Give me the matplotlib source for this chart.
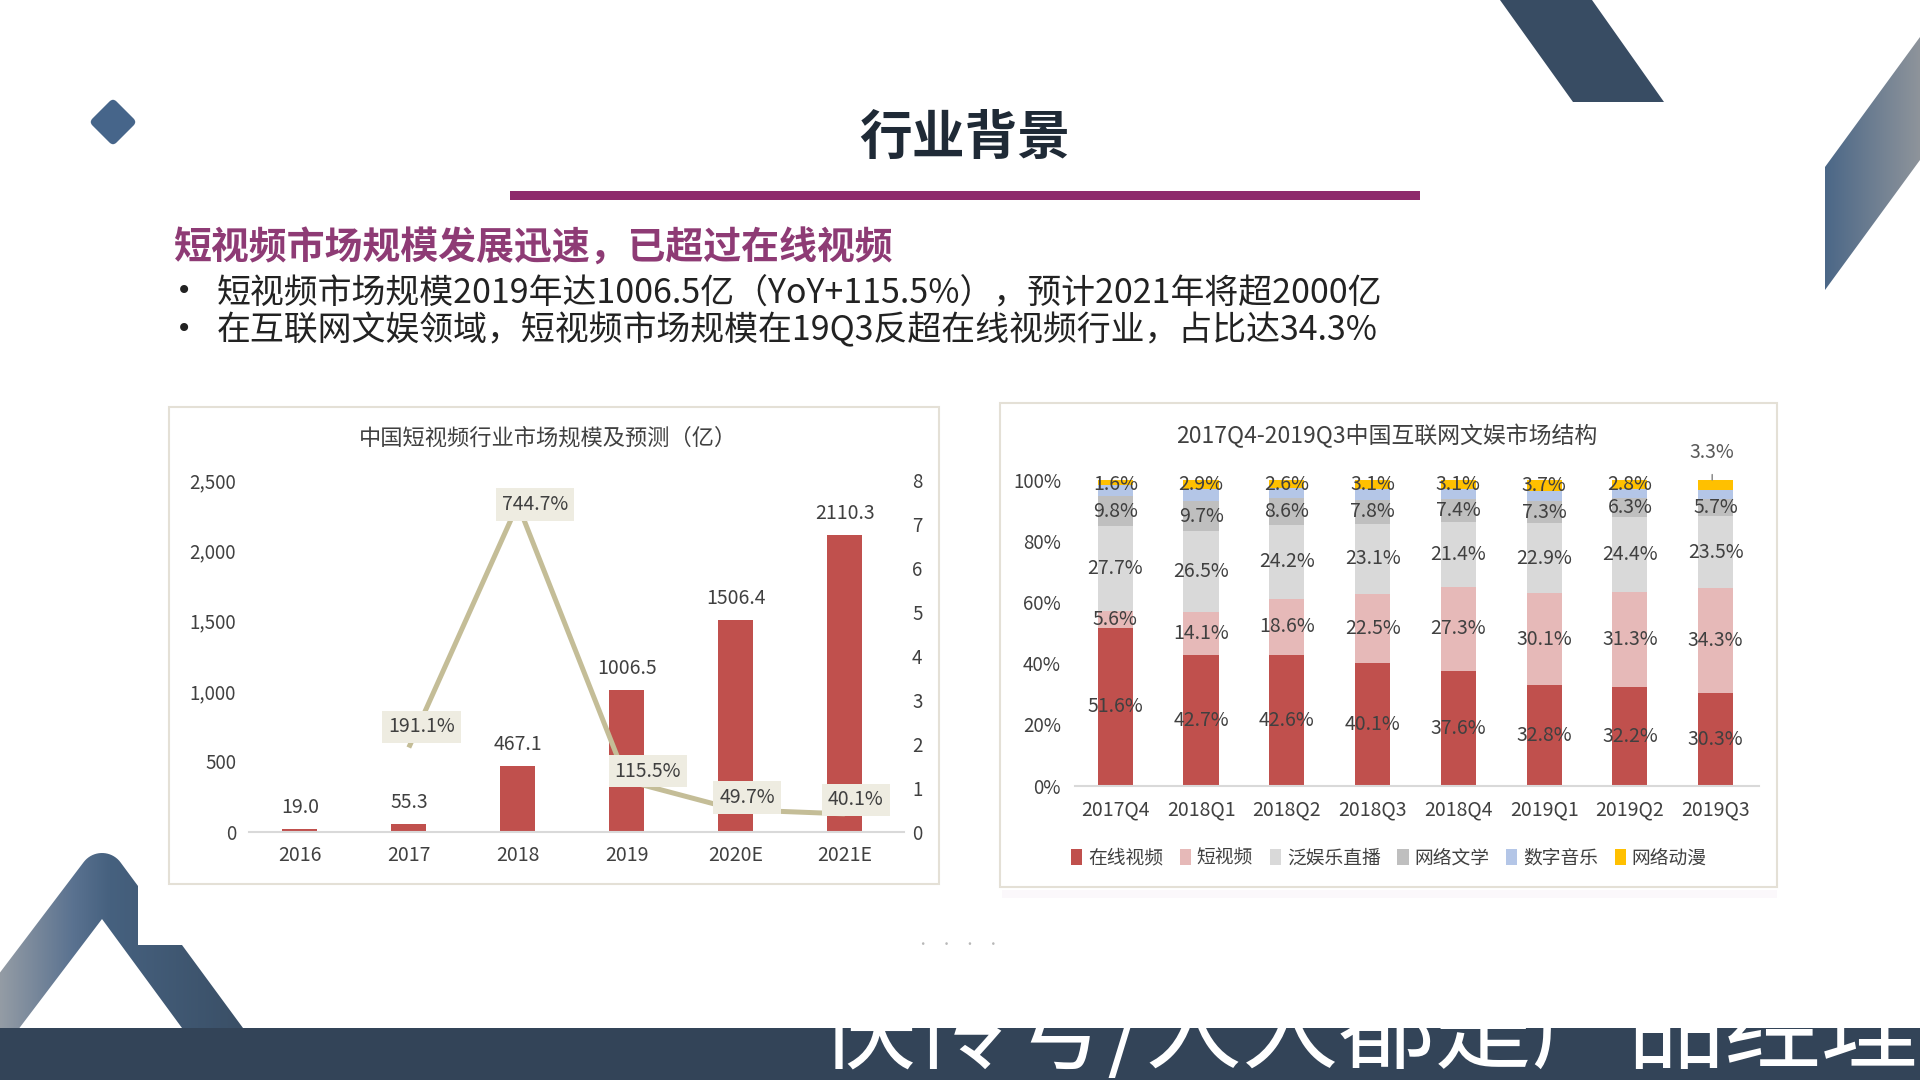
import numpy as np
import matplotlib
matplotlib.use("Agg")
import matplotlib.pyplot as plt
from matplotlib.patches import Polygon, FancyBboxPatch, Rectangle
from matplotlib.transforms import Affine2D
from matplotlib.colors import LinearSegmentedColormap
from matplotlib.ticker import FuncFormatter

plt.rcParams['font.family'] = ['Noto Sans CJK SC', 'DejaVu Sans']

# 左图：中国短视频行业市场规模及预测（亿）
years = ['2016', '2017', '2018', '2019', '2020E', '2021E']
market_size = [19.0, 55.3, 467.1, 1006.5, 1506.4, 2110.3]
yoy_years = ['2017', '2018', '2019', '2020E', '2021E']
yoy_growth = [1.911, 7.447, 1.155, 0.497, 0.401]
yoy_labels = ['191.1%', '744.7%', '115.5%', '49.7%', '40.1%']

# 右图：2017Q4-2019Q3中国互联网文娱市场结构（%）
quarters = ['2017Q4', '2018Q1', '2018Q2', '2018Q3', '2018Q4', '2019Q1', '2019Q2', '2019Q3']
segments = ['在线视频', '短视频', '泛娱乐直播', '网络文学', '数字音乐', '网络动漫']
online_video = [51.6, 42.7, 42.6, 40.1, 37.6, 32.8, 32.2, 30.3]
short_video = [5.6, 14.1, 18.6, 22.5, 27.3, 30.1, 31.3, 34.3]
live_stream = [27.7, 26.5, 24.2, 23.1, 21.4, 22.9, 24.4, 23.5]
literature = [9.8, 9.7, 8.6, 7.8, 7.4, 7.3, 6.3, 5.7]
music = [3.7, 4.1, 3.4, 3.4, 3.2, 3.2, 3.0, 2.9]
anime = [1.6, 2.9, 2.6, 3.1, 3.1, 3.7, 2.8, 3.3]

W, H = 1920, 1080
TXT = '#404040'

fig = plt.figure(figsize=(19.2, 10.8), dpi=100)
bg = fig.add_axes([0, 0, 1, 1])
bg.axis('off')


def rect(x0, y0, x1, y1):
    # 像素坐标 -> figure 坐标
    return [x0 / W, 1 - y1 / H, (x1 - x0) / W, (y1 - y0) / H]


def grad_poly(ax, pts, stops, z=1):
    poly = Polygon(pts, closed=True, facecolor='none', edgecolor='none')
    ax.add_patch(poly)
    xs = [p[0] for p in pts]
    ys = [p[1] for p in pts]
    cmap = LinearSegmentedColormap.from_list('g', stops)
    g = np.linspace(0, 1, 256).reshape(1, -1)
    im = ax.imshow(g, extent=(min(xs), max(xs), max(ys), min(ys)), cmap=cmap,
                   aspect='auto', zorder=z, interpolation='bilinear')
    im.set_clip_path(poly)


# ---- 装饰图形 ----
# 左上菱形
dia = FancyBboxPatch((113 - 15, 122 - 15), 30, 30, boxstyle='round,pad=2,rounding_size=5',
                     fc='#46658a', ec='none')
dia.set_transform(Affine2D().rotate_deg_around(113, 122, 45) + bg.transData)
bg.add_patch(dia)

# 右上斜条
bg.add_patch(Polygon([(1500, 0), (1592, 0), (1664, 102), (1573, 102)], closed=True,
                     fc='#384c63', ec='none'))
grad_poly(bg, [(1825, 167), (1920, 37), (1920, 160), (1825, 290)],
          [(0, '#4b6787'), (1, '#8e949b')])

# 左下 "A" 形
cx, cy, r = 102, 876, 23
ang = np.radians(np.linspace(-142.8, -36.3, 20))
arc = [(cx + r * np.cos(a), cy + r * np.sin(a)) for a in ang]
a_pts = [(0, 972.5)] + arc + [(138, 886), (138, 945), (182, 945), (243, 1028),
                              (182, 1028), (102, 919), (19.4, 1028), (0, 1028)]
grad_poly(bg, a_pts, [(0, '#949ca5'), (0.3, '#5a7290'), (0.45, '#46617f'), (1, '#3a4f66')])

# 底部深色条
bg.add_patch(Rectangle((0, 1028), 1920, 52, fc='#334458', ec='none', zorder=3))
bg.text(818, 1061, '快传号/人人都是产品经理', fontsize=69.5, color='white',
        ha='left', va='baseline', zorder=4, fontweight='medium')
bg.text(958, 945, '·    ·    ·    ·', fontsize=9, color='#b8b8b8', ha='center', va='center')

# ---- 标题区 ----
bg.text(965, 138, '行业背景', ha='center', va='center', fontsize=38, fontweight='bold',
        color='#1f2a36')
bg.add_patch(Rectangle((510, 191), 910, 9, fc='#8e2a6c', ec='none'))
bg.text(173, 248, '短视频市场规模发展迅速，已超过在线视频', ha='left', va='center',
        fontsize=27.3, color='#8e3b75', fontweight='bold')
bg.text(176, 291, '•', ha='left', va='center', fontsize=20, color='#222222',
        family='DejaVu Sans')
bg.text(217, 293, '短视频市场规模2019年达1006.5亿（YoY+115.5%），预计2021年将超2000亿',
        ha='left', va='center', fontsize=24.4, color='#222222')
bg.text(176, 329, '•', ha='left', va='center', fontsize=20, color='#222222',
        family='DejaVu Sans')
bg.text(217, 331, '在互联网文娱领域，短视频市场规模在19Q3反超在线视频行业，占比达34.3%',
        ha='left', va='center', fontsize=24.4, color='#222222')

# 图表外框
bg.add_patch(Rectangle((169, 407), 770, 477, fc='white', ec='#e4e0d6', lw=1.5))
bg.add_patch(Rectangle((1002, 890), 775, 8, fc='#fbf8fb', ec='none'))
bg.add_patch(Rectangle((1000, 403), 777, 484, fc='white', ec='#e4e0d6', lw=1.5))

bg.set_xlim(0, W)
bg.set_ylim(H, 0)

# ---- 左图 ----
ax1 = fig.add_axes(rect(248.6, 480, 903.7, 831.5))
ax1.set_facecolor('none')
x = np.arange(len(years))
ax1.bar(x, market_size, width=0.32, color='#c0504d', zorder=2)
for xi, v in zip(x, market_size):
    ax1.annotate(f'{v:.1f}', (xi, v), xytext=(0, 15.5), textcoords='offset points',
                 ha='center', va='center', fontsize=14, color=TXT)
ax1.set_xlim(-0.47, 5.54)
ax1.set_ylim(0, 2500)
ax1.set_xticks(x)
ax1.set_xticklabels(years)
ax1.set_yticks(range(0, 2501, 500))
ax1.yaxis.set_major_formatter(FuncFormatter(lambda v, p: f'{int(v):,}'))
for s in ['top', 'right', 'left']:
    ax1.spines[s].set_visible(False)
ax1.spines['bottom'].set_color('#d9d9d9')
ax1.spines['bottom'].set_linewidth(1.5)
ax1.tick_params(axis='x', length=0, pad=10, labelsize=14, labelcolor=TXT)
ax1.tick_params(axis='y', length=0, pad=9, labelsize=13.5, labelcolor=TXT)

ax1b = ax1.twinx()
ax1b.set_ylim(0, 8)
ax1b.set_yticks(range(0, 9))
for s in ax1b.spines.values():
    s.set_visible(False)
ax1b.tick_params(axis='y', length=0, pad=6, labelsize=13.5, labelcolor=TXT)
xl = [years.index(y) for y in yoy_years]
ax1b.plot(xl, yoy_growth, color='#c4bd97', lw=3.6, zorder=3, solid_capstyle='butt')
label_offsets = [(9, 14.8), (12.2, 0), (15, 7), (8, 8.6), (8, 10)]
for xi, v, lbl, off in zip(xl, yoy_growth, yoy_labels, label_offsets):
    ax1b.annotate(lbl, (xi, v), xytext=off, textcoords='offset points', ha='center',
                  va='center', fontsize=14, color=TXT, zorder=4,
                  bbox=dict(boxstyle='square,pad=0.3', fc='#eeece1', ec='none'))

fig.text(548 / W, 1 - 438 / H, '中国短视频行业市场规模及预测（亿）', ha='center', va='center',
         fontsize=16, color=TXT)

# ---- 右图 ----
ax2 = fig.add_axes(rect(1075, 480, 1758.5, 785.5))
ax2.set_facecolor('none')
xq = np.arange(len(quarters))
series = [online_video, short_video, live_stream, literature, music, anime]
colors = ['#c0504d', '#e6b9b8', '#d9d9d9', '#bfbfbf', '#b4c6e7', '#ffc000']
bottom = np.zeros(len(quarters))
for name, vals, c in zip(segments, series, colors):
    vals = np.array(vals)
    ax2.bar(xq, vals, bottom=bottom, width=0.41, color=c, label=name, zorder=2)
    if name != '数字音乐':
        for xi, b, v in zip(xq, bottom, vals):
            if name == '网络动漫' and xi == len(quarters) - 1:
                ax2.annotate(f'{v}%', (xi - 0.04, b + v), xytext=(0, 19.5),
                             textcoords='offset points', ha='center', va='center',
                             fontsize=14, color='#595959', annotation_clip=False,
                             arrowprops=dict(arrowstyle='-', color='#808080', lw=1,
                                             shrinkA=6, shrinkB=0))
                continue
            yc = b + v / 2
            if name == '网络动漫':
                yc = min(yc, 98.4)
            ax2.text(xi, yc, f'{v}%', ha='center', va='center', fontsize=14,
                     color=TXT, zorder=3)
    bottom += vals
ax2.set_xlim(-0.47, 7.5)
ax2.set_ylim(0, 100)
ax2.set_xticks(xq)
ax2.set_xticklabels(quarters)
ax2.set_yticks(range(0, 101, 20))
ax2.yaxis.set_major_formatter(FuncFormatter(lambda v, p: f'{int(v)}%'))
for s in ['top', 'right', 'left']:
    ax2.spines[s].set_visible(False)
ax2.spines['bottom'].set_color('#d9d9d9')
ax2.spines['bottom'].set_linewidth(1.5)
ax2.tick_params(axis='x', length=0, pad=10, labelsize=14, labelcolor=TXT)
ax2.tick_params(axis='y', length=0, pad=10, labelsize=13.5, labelcolor=TXT)
ax2.legend(ncol=6, loc='center', bbox_to_anchor=(1389 / W, 1 - 858 / H),
           bbox_transform=fig.transFigure, frameon=False, fontsize=13.5,
           handlelength=0.6, handleheight=0.9, handletextpad=0.3, columnspacing=0.9,
           labelcolor=TXT)

fig.text(1387 / W, 1 - 436 / H, '2017Q4-2019Q3中国互联网文娱市场结构', ha='center', va='center',
         fontsize=16.5, color=TXT)

fig.savefig('out.png', dpi=100, facecolor='white')
